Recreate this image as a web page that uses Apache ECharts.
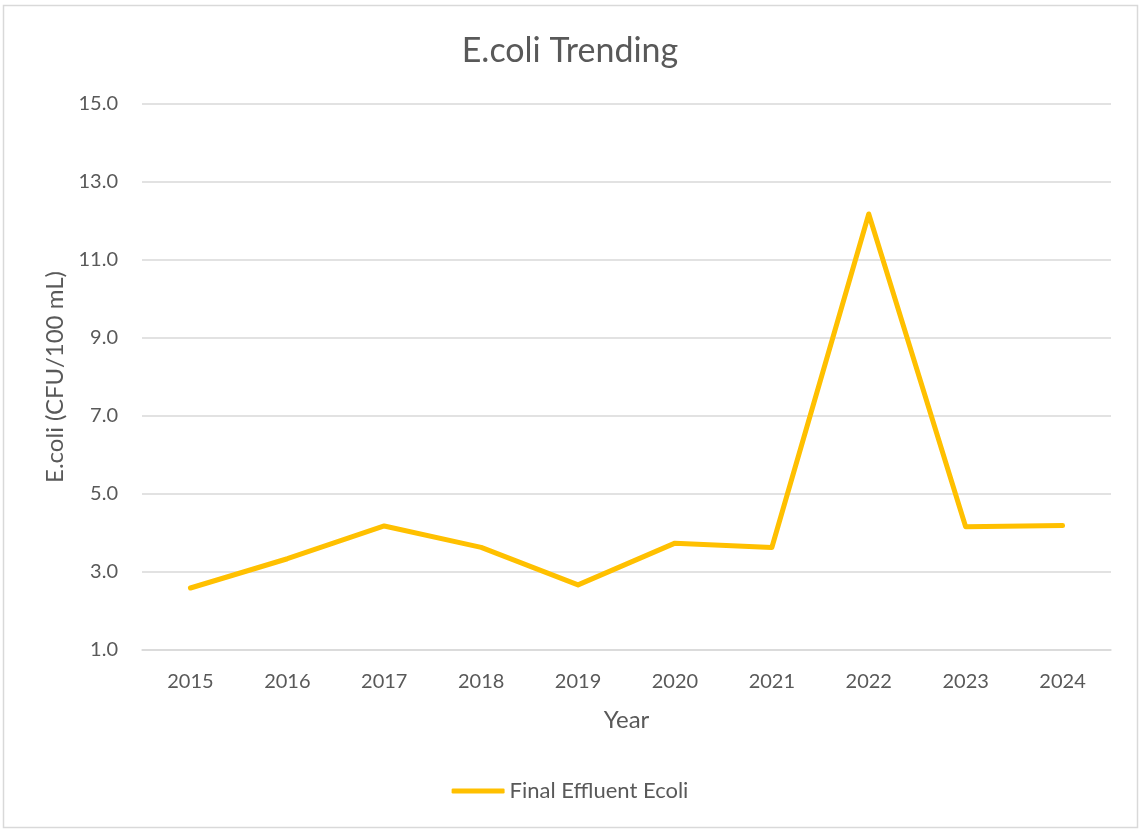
<!DOCTYPE html>
<html>
<head>
<meta charset="utf-8">
<script src="https://cdn.jsdelivr.net/npm/echarts@6/dist/echarts.min.js"></script>
<style>
    html, body { margin: 0; padding: 0; background: #fff; }
    #chart { width: 1140px; height: 830px; }
</style>
</head>
<body>
<div id="chart"></div>
<script>
// values
const years  = ['2015', '2016', '2017', '2018', '2019', '2020', '2021', '2022', '2023', '2024'];
const ecoli  = [2.59, 3.34, 4.18, 3.63, 2.67, 3.74, 3.63, 12.18, 4.16, 4.19];
const yTicks = [1, 3, 5, 7, 9, 11, 13, 15];

const textColor = '#595959';
const font      = 'Lato';

const chart = echarts.init(document.getElementById('chart'));

const option = {
    animation: false,
    backgroundColor: '#fff',
    textStyle: { fontFamily: font },
    title: {
        text: 'E.coli Trending',
        left: 'center',
        top: 29,
        textStyle: { fontFamily: font, fontSize: 34, fontWeight: 'normal', color: textColor }
    },
    graphic: [{
        type: 'rect',
        shape: { x: 3.5, y: 5.5, width: 1134, height: 822 },
        style: { fill: 'none', stroke: '#d9d9d9', lineWidth: 1.5 },
        silent: true
    }],
    grid: {
        left: 142,
        right: 29,
        top: 104,
        bottom: 180
    },
    legend: {
        bottom: 23,
        left: 'center',
        itemWidth: 53,
        itemHeight: 5,
        itemGap: 5,
        icon: 'roundRect',
        textStyle: { fontFamily: font, fontSize: 22, color: textColor },
        data: ['Final Effluent Ecoli']
    },
    xAxis: {
        type: 'category',
        data: years,
        boundaryGap: true,
        name: 'Year',
        nameLocation: 'middle',
        nameGap: 58,
        nameTextStyle: { fontFamily: font, fontSize: 24, color: textColor },
        axisLine: { lineStyle: { color: '#d9d9d9', width: 1.5 } },
        axisTick: { show: false },
        axisLabel: { fontFamily: font, fontSize: 20, color: textColor, margin: 22 }
    },
    yAxis: {
        type: 'value',
        min: yTicks[0],
        max: yTicks[yTicks.length - 1],
        interval: 2,
        name: 'E.coli (CFU/100 mL)',
        nameLocation: 'middle',
        nameRotate: 90,
        nameGap: 73,
        nameTextStyle: { fontFamily: font, fontSize: 24, color: textColor },
        axisLine: { show: false },
        axisTick: { show: false },
        splitLine: { lineStyle: { color: '#d9d9d9', width: 1.5 } },
        axisLabel: {
            fontFamily: font, fontSize: 20, color: textColor, margin: 24,
            formatter: v => v.toFixed(1)
        }
    },
    series: [{
        name: 'Final Effluent Ecoli',
        type: 'line',
        data: ecoli,
        symbol: 'none',
        lineStyle: { color: '#FFC000', width: 5, cap: 'round', join: 'round' },
        itemStyle: { color: '#FFC000' }
    }]
};

chart.setOption(option);
</script>
</body>
</html>
